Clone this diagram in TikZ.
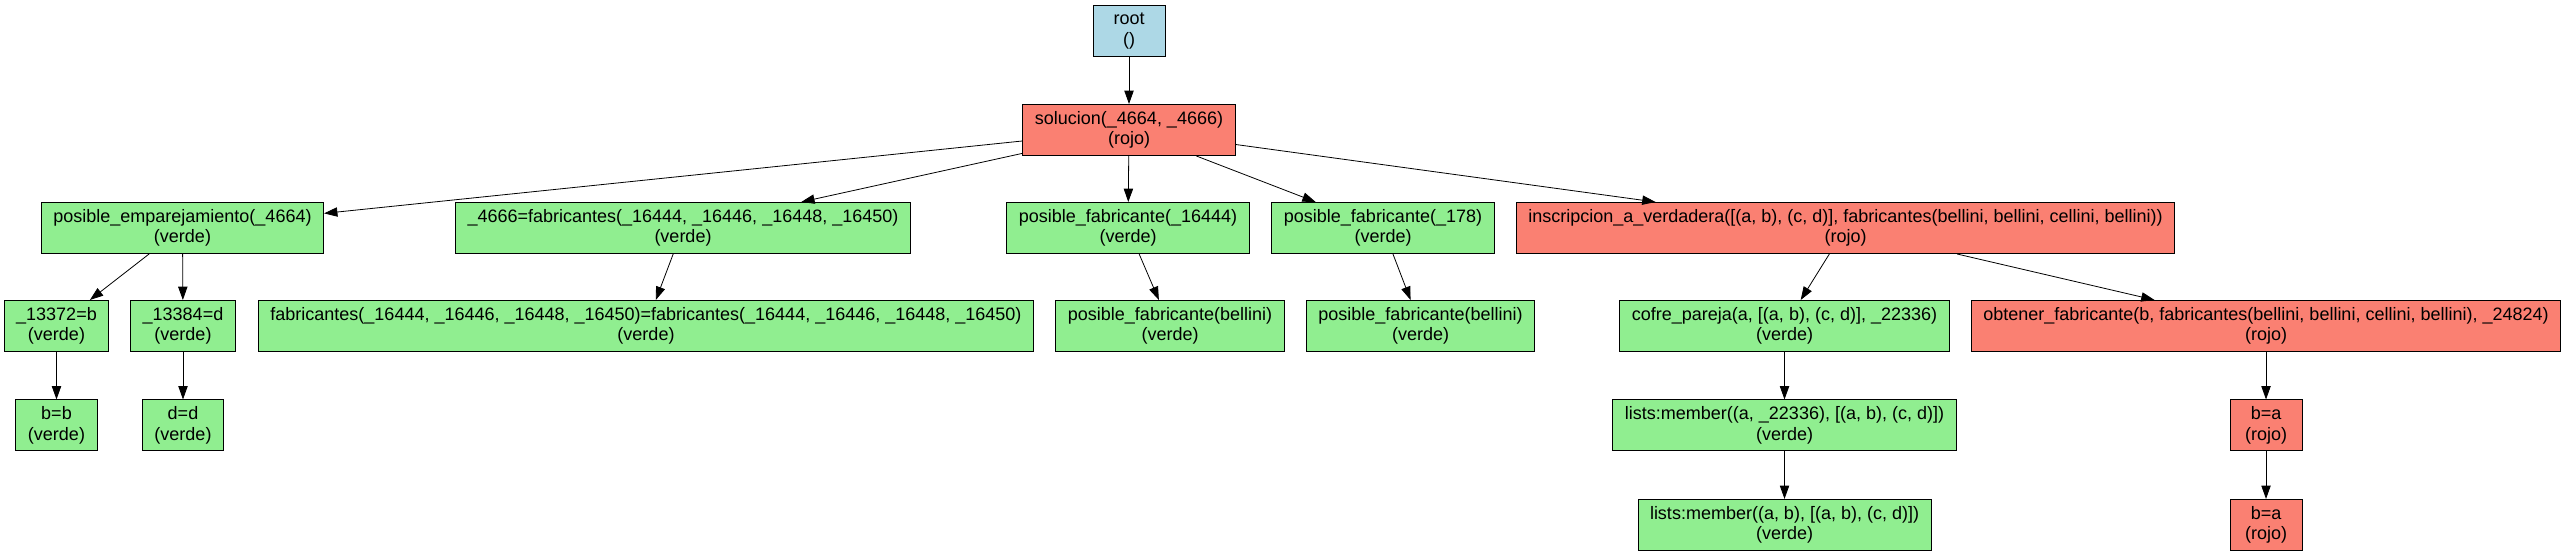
\documentclass[tikz,border=0pt]{standalone}
\usepackage{fontspec}
\setmainfont{Liberation Sans}
\usepackage{xcolor}
\usetikzlibrary{arrows.meta, positioning}

\definecolor{azulclaro}{HTML}{ADD8E6}
\definecolor{verdeclaro}{HTML}{90EE90}
\definecolor{salmon}{HTML}{FA8072}

\begin{document}
\begin{tikzpicture}[
    x=0.75pt, y=-0.75pt,
    node distance=35.6pt,
    every node/.style={font=\fontsize{13.5}{15.5}\selectfont},
    goal/.style={draw, line width=0.75pt, align=center, inner xsep=9pt,
                 minimum height=38.25pt, minimum width=54pt},
    raiz/.style={goal, fill=azulclaro},
    verde/.style={goal, fill=verdeclaro},
    rojo/.style={goal, fill=salmon},
    arr/.style={-{Triangle[length=10pt, width=7pt]}, line width=0.6pt},
]
\useasboundingbox (0,0) rectangle (2565,555);

\node[raiz] (root) at (1129,31)  {root\\()};
\node[rojo] (sol)  at (1129,130) {solucion(\_4664, \_4666)\\(rojo)};

\node[verde] (pe)  at (182.5,228) {posible\_emparejamiento(\_4664)\\(verde)};
\node[verde] (fab) at (683,228)   {\_4666=fabricantes(\_16444, \_16446, \_16448, \_16450)\\(verde)};
\node[verde] (pf1) at (1128,228)  {posible\_fabricante(\_16444)\\(verde)};
\node[verde] (pf2) at (1383,228)  {posible\_fabricante(\_178)\\(verde)};
\node[rojo]  (ins) at (1845.5,228) {inscripcion\_a\_verdadera([(a, b), (c, d)], fabricantes(bellini, bellini, cellini, bellini))\\(rojo)};

\node[verde] (v1)  at (56.5,326)  {\_13372=b\\(verde)};
\node[verde] (v2)  at (183,326)   {\_13384=d\\(verde)};
\node[verde] (ff)  at (646,326)   {fabricantes(\_16444, \_16446, \_16448, \_16450)=fabricantes(\_16444, \_16446, \_16448, \_16450)\\(verde)};
\node[verde] (pb1) at (1170,326)  {posible\_fabricante(bellini)\\(verde)};
\node[verde] (pb2) at (1420.5,326) {posible\_fabricante(bellini)\\(verde)};
\node[verde] (cp)  at (1784.5,326) {cofre\_pareja(a, [(a, b), (c, d)], \_22336)\\(verde)};
\node[rojo]  (of)  at (2266,326)  {obtener\_fabricante(b, fabricantes(bellini, bellini, cellini, bellini), \_24824)\\(rojo)};

\node[verde, below=of v1]  (bb)  {b=b\\(verde)};
\node[verde, below=of v2]  (dd)  {d=d\\(verde)};
\node[verde, below=of cp]  (lm1) {lists:member((a, \_22336), [(a, b), (c, d)])\\(verde)};
\node[verde, below=of lm1] (lm2) {lists:member((a, b), [(a, b), (c, d)])\\(verde)};
\node[rojo,  below=of of]  (ba1) {b=a\\(rojo)};
\node[rojo,  below=of ba1] (ba2) {b=a\\(rojo)};

\draw[arr] (root) -- (sol);
\draw[arr] (sol) -- (pe);
\draw[arr] (sol) -- (fab);
\draw[arr] (sol) -- (pf1);
\draw[arr] (sol) -- (pf2);
\draw[arr] (sol) -- (ins);
\draw[arr] (pe)  -- (v1);
\draw[arr] (pe)  -- (v2);
\draw[arr] (v1)  -- (bb);
\draw[arr] (v2)  -- (dd);
\draw[arr] (fab) -- (ff);
\draw[arr] (pf1) -- (pb1);
\draw[arr] (pf2) -- (pb2);
\draw[arr] (ins) -- (cp);
\draw[arr] (ins) -- (of);
\draw[arr] (cp)  -- (lm1);
\draw[arr] (lm1) -- (lm2);
\draw[arr] (of)  -- (ba1);
\draw[arr] (ba1) -- (ba2);
\end{tikzpicture}
\end{document}
